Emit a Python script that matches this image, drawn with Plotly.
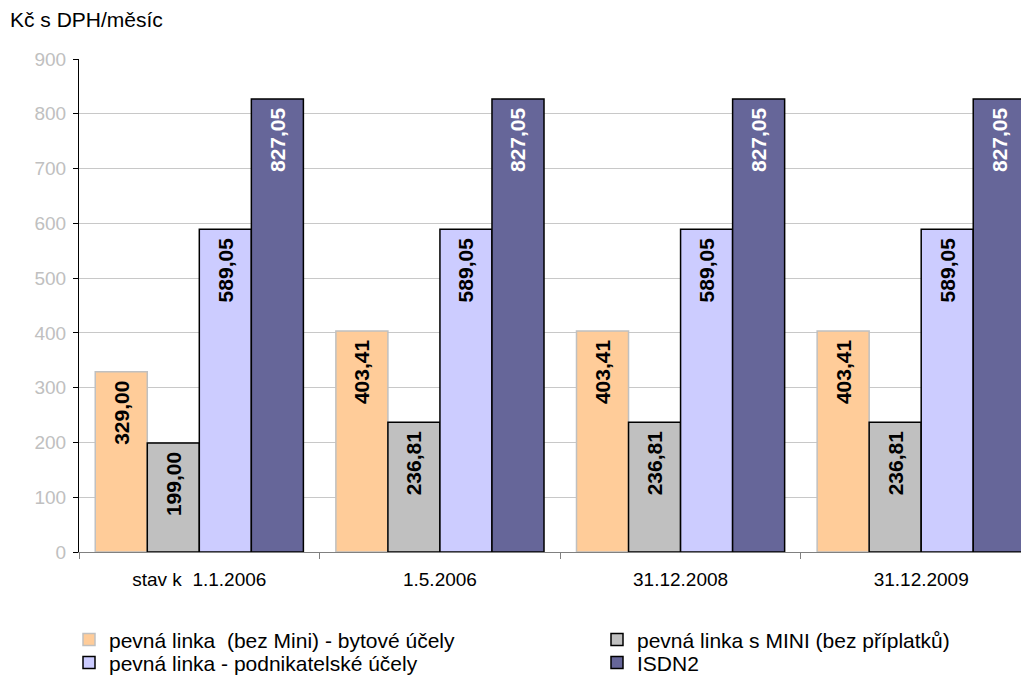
import plotly.graph_objects as go

# categories (dates)
categories = ["stav k  1.1.2006", "1.5.2006", "31.12.2008", "31.12.2009"]

# series values, Kč s DPH / month
bytove = [329.00, 403.41, 403.41, 403.41]
mini = [199.00, 236.81, 236.81, 236.81]
podnikatelske = [589.05, 589.05, 589.05, 589.05]
isdn2 = [827.05, 827.05, 827.05, 827.05]

series_names = [
    "pevná linka  (bez Mini) - bytové účely",
    "pevná linka s MINI (bez příplatků)",
    "pevná linka - podnikatelské účely",
    "ISDN2",
]

y_ticks = [0, 100, 200, 300, 400, 500, 600, 700, 800, 900]

# page body has an 8px margin, so the figure is sized to end at the window edge
OFF = 8
W, H = 1029 - OFF, 690 - OFF
ML, MR, MT, MB = 79 - OFF, 0, 58.5 - OFF, 690 - 552
PW, PH = W - ML - MR, H - MT - MB
FONT = "Arial, Liberation Sans, sans-serif"


# helpers: window pixel -> paper fraction
def px_x(x):
    return (x - OFF - ML) / PW


def px_y(y):
    return (H - MB - (y - OFF)) / PH


fig = go.Figure()

specs = [
    (bytove, series_names[0], "#FFCC99", "#C0C0C0", "black", "legend"),
    (mini, series_names[1], "#C0C0C0", "black", "black", "legend3"),
    (podnikatelske, series_names[2], "#CCCCFF", "black", "black", "legend2"),
    (isdn2, series_names[3], "#666699", "black", "white", "legend4"),
]

for vals, name, fill, edge, txtcol, leg in specs:
    fig.add_trace(go.Bar(
        x=categories, y=vals, name=name,
        marker=dict(color=fill, line=dict(color=edge, width=1.5)),
        texttemplate="%{y:.2f}\u00a0",
        textposition="inside",
        insidetextanchor="end",
        textangle=-90,
        textfont=dict(family=FONT, size=21, color=txtcol, weight="bold"),
        legend=leg,
        hoverinfo="skip",
    ))

# legend placement: two columns x two rows, one legend box per entry
leg_common = dict(
    xanchor="left", yanchor="middle",
    bgcolor="rgba(0,0,0,0)", borderwidth=0,
    font=dict(family=FONT, size=21, color="black"),
)
col_x = [px_x(69), px_x(597)]
row_y = [px_y(640), px_y(663)]

fig.update_layout(
    width=W, height=H,
    margin=dict(l=ML, r=MR, t=MT, b=MB, autoexpand=False),
    paper_bgcolor="white", plot_bgcolor="white",
    separators=", ",
    barmode="group", bargap=0.135, bargroupgap=0,
    showlegend=True,
    title=dict(
        text="Kč s DPH/měsíc",
        xref="container", yref="container",
        x=(10 - OFF) / W, xanchor="left",
        y=1 - (20 - OFF) / H, yanchor="middle",
        pad=dict(l=0, r=0, t=0, b=0),
        font=dict(family=FONT, size=21, color="black"),
    ),
    legend=dict(leg_common, x=col_x[0], y=row_y[0]),
    legend2=dict(leg_common, x=col_x[0], y=row_y[1]),
    legend3=dict(leg_common, x=col_x[1], y=row_y[0]),
    legend4=dict(leg_common, x=col_x[1], y=row_y[1]),
    xaxis=dict(
        type="category",
        range=[-0.5, 3.448],
        showline=True, linecolor="#808080", linewidth=1,
        ticks="outside", tickson="boundaries", ticklen=6,
        tickcolor="#808080", tickwidth=1,
        ticklabelstandoff=10,
        tickfont=dict(family=FONT, size=19, color="black"),
        showgrid=False, zeroline=False,
    ),
    yaxis=dict(
        range=[0, 900],
        tickvals=y_ticks,
        showline=True, linecolor="black", linewidth=1,
        ticks="outside", ticklen=5, tickcolor="black", tickwidth=1,
        ticklabelstandoff=3,
        tickfont=dict(family=FONT, size=19, color="#C0C0C0"),
        showgrid=True, gridcolor="#C8C8C8", gridwidth=1,
        zeroline=False,
    ),
)

fig.write_html("out.html")
